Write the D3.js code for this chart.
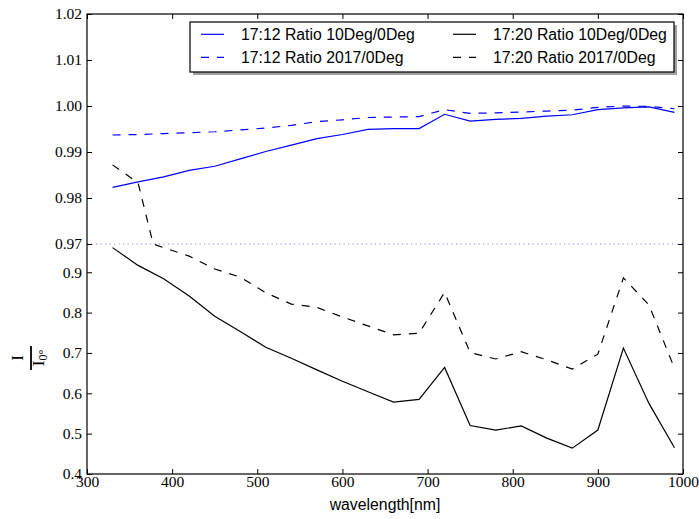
<!doctype html>
<html>
<head>
<meta charset="utf-8">
<style>
  body { margin: 0; background: #fff; }
  .serif { font-family: "Liberation Serif", "DejaVu Serif", serif; }
  .sans { font-family: "Liberation Sans", Arial, sans-serif; }
</style>
<script src="https://cdn.jsdelivr.net/npm/d3@7"></script>
</head>
<body>
<svg id="chart" width="699" height="519"></svg>
<script>

// data
var wavelength = [330, 360, 390, 420, 450, 480, 510, 540, 570, 600, 630, 660,
                  690, 720, 750, 780, 810, 840, 870, 900, 930, 960, 990];

var ratio1712_10deg = [0.9823, 0.9835, 0.9846, 0.9860, 0.9869, 0.9885, 0.9901, 0.9915,
                       0.9929, 0.9938, 0.9949, 0.9951, 0.9951, 0.9982, 0.9967, 0.9971,
                       0.9973, 0.9978, 0.9981, 0.9992, 0.9996, 0.9998, 0.9986];
var ratio1712_2017 = [0.9937, 0.9938, 0.9940, 0.9942, 0.9944, 0.9948, 0.9952, 0.9958,
                      0.9966, 0.9970, 0.9975, 0.9976, 0.9977, 0.9992, 0.9984, 0.9985,
                      0.9987, 0.9989, 0.9991, 0.9997, 1.0000, 0.9999, 0.9994];
var ratio1720_10deg = [0.961, 0.917, 0.884, 0.841, 0.791, 0.753, 0.714, 0.687,
                       0.658, 0.630, 0.604, 0.578, 0.585, 0.664, 0.520, 0.509,
                       0.519, 0.489, 0.464, 0.509, 0.712, 0.575, 0.465];
var ratio1720_2017 = [0.9872, 0.9833, 0.9608, 0.940, 0.908, 0.888, 0.849, 0.821,
                      0.813, 0.789, 0.767, 0.745, 0.749, 0.850, 0.701, 0.685,
                      0.703, 0.683, 0.660, 0.697, 0.886, 0.819, 0.662];

var seriesNames = ["17:12 Ratio 10Deg/0Deg", "17:12 Ratio 2017/0Deg",
                   "17:20 Ratio 10Deg/0Deg", "17:20 Ratio 2017/0Deg"];

var xTicks = [300, 400, 500, 600, 700, 800, 900, 1000];
var yTicks = [0.4, 0.5, 0.6, 0.7, 0.8, 0.9, 0.97, 0.98, 0.99, 1.00, 1.01, 1.02];
var yTickLabels = ["0.4", "0.5", "0.6", "0.7", "0.8", "0.9",
                   "0.97", "0.98", "0.99", "1.00", "1.01", "1.02"];
var yBreak = 0.97;

var plotL = 87, plotR = 683, plotT = 14, plotB = 474;
var svg = d3.select("#chart");

var x = d3.scaleLinear().domain([300, 1000]).range([plotL, plotR]);
// broken axis: 0.4-0.97 squeezed into the lower half, 0.97-1.02 stretched above
var y = d3.scaleLinear().domain([0.4, yBreak, 1.02]).range([plotB, 244, plotT]);

var series = [
  { name: seriesNames[0], values: ratio1712_10deg, color: "#0000ff", dash: null },
  { name: seriesNames[1], values: ratio1712_2017, color: "#0000ff", dash: "8,8" },
  { name: seriesNames[2], values: ratio1720_10deg, color: "#000000", dash: null },
  { name: seriesNames[3], values: ratio1720_2017, color: "#000000", dash: "8,8" }
];

// segments are straight in data space, so a segment crossing the break bends there
function pts(values) {
  var out = [];
  values.forEach(function(v, i) {
    if (i > 0) {
      var p = values[i - 1];
      if ((p - yBreak) * (v - yBreak) < 0) {
        var t = (yBreak - p) / (v - p);
        out.push([wavelength[i - 1] + t * (wavelength[i] - wavelength[i - 1]), yBreak]);
      }
    }
    out.push([wavelength[i], v]);
  });
  return out;
}

var line = d3.line().x(function(d){ return x(d[0]); }).y(function(d){ return y(d[1]); });

// dotted line marking the break
svg.append("line")
  .attr("x1", plotL).attr("x2", plotR)
  .attr("y1", y(yBreak)).attr("y2", y(yBreak))
  .attr("stroke", "#8088b8").attr("stroke-width", 0.9)
  .attr("stroke-dasharray", "1.2,3.3");

svg.selectAll("path.series")
  .data(series)
  .enter().append("path")
  .attr("class", "series")
  .attr("d", function(d){ return line(pts(d.values)); })
  .attr("fill", "none")
  .attr("stroke", function(d){ return d.color; })
  .attr("stroke-width", 1.2)
  .attr("stroke-dasharray", function(d){ return d.dash; });

// axes, ticks pointing inward on all four sides
var gx = svg.append("g").attr("transform", "translate(0," + plotB + ")")
  .call(d3.axisBottom(x).tickValues(xTicks).tickSizeInner(-5).tickSizeOuter(0).tickPadding(1.5)
        .tickFormat(d3.format("d")));
var gxt = svg.append("g").attr("transform", "translate(0," + plotT + ")")
  .call(d3.axisTop(x).tickValues(xTicks).tickSizeInner(-5).tickSizeOuter(0).tickFormat(""));
var gy = svg.append("g").attr("transform", "translate(" + plotL + ",0)")
  .call(d3.axisLeft(y).tickValues(yTicks).tickSizeInner(-5).tickSizeOuter(0).tickPadding(5)
        .tickFormat(function(d, i){ return yTickLabels[i]; }));
var gyr = svg.append("g").attr("transform", "translate(" + plotR + ",0)")
  .call(d3.axisRight(y).tickValues(yTicks).tickSizeInner(-5).tickSizeOuter(0).tickFormat(""));

[gx, gxt, gy, gyr].forEach(function(g) {
  g.select(".domain").remove();
  g.selectAll(".tick line").attr("stroke", "#000").attr("stroke-width", 1);
  g.selectAll("text").attr("class", "serif").attr("font-size", 15.5).attr("fill", "#000");
});

svg.append("rect")
  .attr("x", plotL).attr("y", plotT)
  .attr("width", plotR - plotL).attr("height", plotB - plotT)
  .attr("fill", "none").attr("stroke", "#000").attr("stroke-width", 1.2);

// axis labels
svg.append("text").attr("class", "sans")
  .attr("x", (plotL + plotR) / 2).attr("y", 510)
  .attr("text-anchor", "middle").attr("font-size", 15.8)
  .text("wavelength[nm]");

var yl = svg.append("g").attr("class", "serif")
  .attr("transform", "translate(31,358) rotate(-90)");
yl.append("line").attr("x1", -12).attr("x2", 12).attr("y1", 0).attr("y2", 0)
  .attr("stroke", "#000").attr("stroke-width", 1.8);
yl.append("text").attr("x", 0).attr("y", -8).attr("text-anchor", "middle")
  .attr("font-size", 17).text("I");
var den = yl.append("text").attr("x", 0).attr("y", 13).attr("text-anchor", "middle")
  .attr("font-size", 17);
den.append("tspan").text("I");
den.append("tspan").attr("font-size", 12).attr("dy", 3).text("0°");

// legend
var lg = svg.append("g");
lg.append("rect").attr("x", 193).attr("y", 25).attr("width", 484).attr("height", 50)
  .attr("fill", "#a0a0a0");
lg.append("rect").attr("x", 190).attr("y", 22).attr("width", 484).attr("height", 50)
  .attr("fill", "#fff").attr("stroke", "#000").attr("stroke-width", 1.2);

var legendPos = [[201, 34.3], [201, 57.3], [453, 34.3], [453, 57.3]];
var items = lg.selectAll("g.item").data(series).enter().append("g")
  .attr("class", "item")
  .attr("transform", function(d, i){ return "translate(" + legendPos[i][0] + "," + legendPos[i][1] + ")"; });
items.append("line").attr("x1", 0).attr("x2", 23).attr("y1", 0).attr("y2", 0)
  .attr("stroke", function(d){ return d.color; }).attr("stroke-width", 1.2)
  .attr("stroke-dasharray", function(d){ return d.dash; });
items.append("text").attr("class", "sans")
  .attr("x", 40).attr("y", 5.6).attr("font-size", 15.8)
  .text(function(d){ return d.name; });

</script>
</body>
</html>
